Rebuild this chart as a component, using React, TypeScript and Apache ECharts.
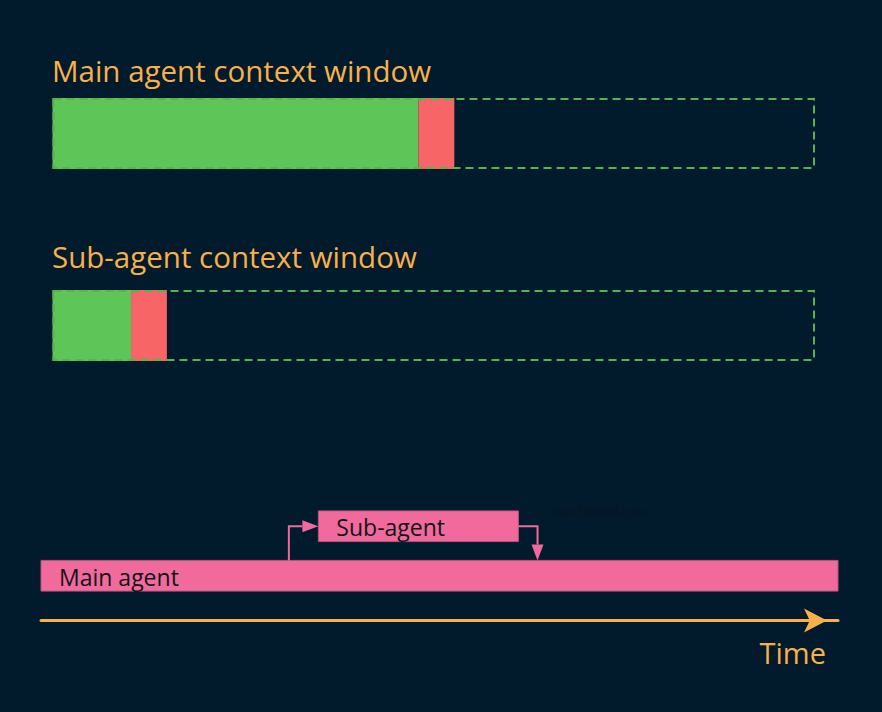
import React, { useEffect, useRef } from "react";
import * as echarts from "echarts";

// ---- data ----
const contextWindows = ["Main agent context window", "Sub-agent context window"];
const contextUsed = [48.0, 10.3];
const contextResult = [4.7, 4.7];
const contextCapacity = [100, 100];

const agents = ["Main agent", "Sub-agent"];
const agentStart = [0, 34.8];
const agentEnd = [100, 59.9];
const spawnAt = 31.1;
const returnAt = 62.3;

const timeLabel = "Time";
const watermark = "Alex Ewerlof.com";

// ---- styles ----
const BG = "#011a2c";
const ORANGE = "#f8b04a";
const GREEN = "#5ec558";
const GREEN_DASH = "#52b54f";
const RED = "#f86566";
const PINK = "#f06b9c";
const FONT = "'Open Sans'";

export default function App() {
  const ref = useRef<HTMLDivElement>(null);

  useEffect(() => {
    if (!ref.current) return;
    const chart = echarts.init(ref.current, undefined, { renderer: "svg" });

    const ctxGrids = [
      { left: 52.5, top: 98, width: 762.5, height: 71 },
      { left: 52.5, top: 290, width: 762.5, height: 71 },
    ];
    const timelineGrid = { left: 41, top: 501.5, width: 797, height: 99 };

    const xAxes: any[] = [];
    const yAxes: any[] = [];
    const series: any[] = [];

    ctxGrids.forEach((g, i) => {
      xAxes.push({ gridIndex: i, type: "value", min: 0, max: 100, show: false });
      yAxes.push({ gridIndex: i, type: "category", data: [contextWindows[i]], show: false });
      series.push(
        {
          type: "bar",
          name: "used",
          xAxisIndex: i,
          yAxisIndex: i,
          stack: "ctx" + i,
          barWidth: "100%",
          barGap: "-100%",
          data: [contextUsed[i]],
          itemStyle: { color: GREEN },
          silent: true,
        },
        {
          type: "bar",
          name: "result",
          xAxisIndex: i,
          yAxisIndex: i,
          stack: "ctx" + i,
          barWidth: "100%",
          barGap: "-100%",
          data: [contextResult[i]],
          itemStyle: { color: RED },
          silent: true,
        },
        {
          type: "bar",
          name: "capacity",
          xAxisIndex: i,
          yAxisIndex: i,
          barWidth: "100%",
          barGap: "-100%",
          data: [contextCapacity[i]],
          itemStyle: {
            color: "rgba(0,0,0,0)",
            borderColor: GREEN_DASH,
            borderWidth: 2,
            borderType: [8, 5],
          },
          z: 5,
          silent: true,
        }
      );
    });

    // timeline
    xAxes.push({
      gridIndex: 2,
      type: "value",
      min: 0,
      max: 100,
      position: "bottom",
      offset: 20,
      axisLine: {
        show: true,
        symbol: ["none", "arrow"],
        symbolSize: [18, 23],
        symbolOffset: [0, -11],
        lineStyle: { color: ORANGE, width: 3 },
      },
      axisTick: { show: false },
      axisLabel: { show: false },
      splitLine: { show: false },
    });
    yAxes.push({ gridIndex: 2, type: "category", data: agents, show: false });

    const barFrac = 0.62;

    series.push({
      type: "custom",
      xAxisIndex: 2,
      yAxisIndex: 2,
      silent: true,
      encode: { x: [1, 2], y: 0 },
      data: agents.map((_, i) => [i, agentStart[i], agentEnd[i]]),
      renderItem: (params: any, api: any) => {
        const row = api.value(0);
        const p0 = api.coord([api.value(1), row]);
        const p1 = api.coord([api.value(2), row]);
        const h = api.size([0, 1])[1] * barFrac;
        return {
          type: "group",
          children: [
            {
              type: "rect",
              shape: { x: p0[0], y: p0[1] - h / 2, width: p1[0] - p0[0], height: h },
              style: { fill: PINK, stroke: "#b9527e", lineWidth: 1 },
            },
            {
              type: "text",
              style: {
                text: agents[row],
                x: p0[0] + 18,
                y: p0[1] + 1,
                verticalAlign: "middle",
                fill: "#111418",
                fontSize: 23,
                fontFamily: FONT,
              },
            },
          ],
        };
      },
    });

    series.push({
      type: "custom",
      xAxisIndex: 2,
      yAxisIndex: 2,
      silent: true,
      encode: { x: [1, 2] },
      data: [
        [0, spawnAt, agentStart[1]],
        [1, agentEnd[1], returnAt],
      ],
      renderItem: (params: any, api: any) => {
        const kind = api.value(0);
        const h = api.size([0, 1])[1] * barFrac;
        const head = 16;
        const half = 6;
        const lineStyle = { stroke: PINK, lineWidth: 2, fill: "none" };
        if (kind === 0) {
          const a = api.coord([api.value(1), 0]);
          const b = api.coord([api.value(2), 1]);
          const mainTop = a[1] - h / 2;
          return {
            type: "group",
            children: [
              {
                type: "polyline",
                shape: { points: [[a[0], mainTop], [a[0], b[1]], [b[0] - head, b[1]]] },
                style: lineStyle,
              },
              {
                type: "polygon",
                shape: { points: [[b[0] - head, b[1] - half], [b[0], b[1]], [b[0] - head, b[1] + half]] },
                style: { fill: PINK },
              },
            ],
          };
        }
        const a = api.coord([api.value(1), 1]);
        const b = api.coord([api.value(2), 0]);
        const mainTop = b[1] - h / 2;
        return {
          type: "group",
          children: [
            {
              type: "polyline",
              shape: { points: [[a[0], a[1]], [b[0], a[1]], [b[0], mainTop - head]] },
              style: lineStyle,
            },
            {
              type: "polygon",
              shape: { points: [[b[0] - half, mainTop - head], [b[0], mainTop], [b[0] + half, mainTop - head]] },
              style: { fill: PINK },
            },
          ],
        };
      },
    });

    chart.setOption({
      animation: false,
      backgroundColor: BG,
      title: [
        {
          text: contextWindows[0],
          left: 52,
          top: 55,
          padding: 0,
          textStyle: { color: ORANGE, fontSize: 29.5, fontWeight: "normal", fontFamily: FONT },
        },
        {
          text: contextWindows[1],
          left: 52,
          top: 241,
          padding: 0,
          textStyle: { color: ORANGE, fontSize: 29.5, fontWeight: "normal", fontFamily: FONT },
        },
        {
          text: timeLabel,
          right: 56,
          top: 638,
          padding: 0,
          textStyle: { color: ORANGE, fontSize: 29, fontWeight: "normal", fontFamily: FONT },
        },
        {
          text: watermark,
          left: 551,
          top: 505,
          padding: 0,
          textStyle: { color: "#0a1520", fontSize: 12, fontWeight: "normal", fontFamily: FONT },
        },
      ],
      grid: [...ctxGrids, timelineGrid],
      xAxis: xAxes,
      yAxis: yAxes,
      series,
    });

    return () => chart.dispose();
  }, []);

  return (
    <div
      ref={ref}
      style={{ position: "absolute", left: 0, top: 0, width: 882, height: 712, background: BG }}
    />
  );
}
